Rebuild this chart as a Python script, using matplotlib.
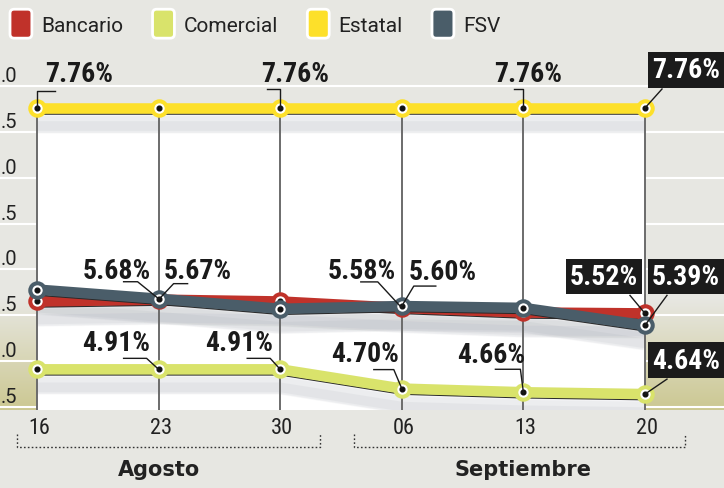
import numpy as np
import matplotlib
matplotlib.use('Agg')
import matplotlib.pyplot as plt
from matplotlib import font_manager as fm
from matplotlib.patches import Rectangle, FancyBboxPatch, Patch
from matplotlib.legend_handler import HandlerPatch
from matplotlib import transforms as mtrans

# ---------------- data ----------------
dates = ['16', '23', '30', '06', '13', '20']
months = ['Agosto', 'Septiembre']
month_groups = [[0, 1, 2], [3, 4, 5]]
series_names = ['Bancario', 'Comercial', 'Estatal', 'FSV']
bancario = [5.65, 5.67, 5.65, 5.58, 5.53, 5.52]
comercial = [4.91, 4.91, 4.91, 4.70, 4.66, 4.64]
estatal = [7.76, 7.76, 7.76, 7.76, 7.76, 7.76]
fsv = [5.78, 5.68, 5.57, 5.60, 5.58, 5.39]
y_ticks = [4.5, 5.0, 5.5, 6.0, 6.5, 7.0, 7.5, 8.0]
# the reference crops the y labels at the left edge; only the visible part is shown
y_tick_labels = ['.5', '.0', '.5', '.0', '.5', '.0', '.5', '.0']

# ---------------- fonts ----------------
all_fonts = fm.fontManager.ttflist
def has(name):
    return any(f.name == name for f in all_fonts)
cond_candidates = ['Roboto Condensed', 'Liberation Sans Narrow', 'Open Sans Condensed']
COND = next((c for c in cond_candidates if has(c)), 'DejaVu Sans')
REG = 'Roboto' if has('Roboto') else 'DejaVu Sans'

# ---------------- style ----------------
BG = '#e7e7e2'
colors = {'Bancario': '#c0322a', 'Comercial': '#d9e36b', 'Estatal': '#fde02a', 'FSV': '#4a5d69'}
W, H = 724, 489
PX_X0, PX_DX = 37, 121.6               # pixel x of first date, pixel spacing
PX_YREF, V_REF, PPU = 109, 7.76, 91.7  # calibration of the vertical scale

def vy(px_from_top):
    return V_REF - (px_from_top - PX_YREF) / PPU
def ddx(px):
    return px / PX_DX
def ddy(px_down):
    return -px_down / PPU

fig = plt.figure(figsize=(W / 100, H / 100), dpi=100)
fig.patch.set_facecolor(BG)
ax = fig.add_axes([0, 0, 1, 1])
xl = (-PX_X0 / PX_DX, (W - PX_X0) / PX_DX)
yl = (vy(H), vy(0))
ax.set_facecolor(BG)
ax.axis('off')

x = np.arange(len(dates))
ybot = vy(411)

# olive gradient in side margins
grad_top = np.array([0xe7, 0xe7, 0xe2]) / 255
grad_bot = np.array([0xcc, 0xc8, 0x92]) / 255
t = np.linspace(0, 1, 100)[:, None]
g = (grad_top * (1 - t) + grad_bot * t)[:, None, :]
ax.imshow(g, extent=[xl[0], 0, ybot, vy(300)], aspect='auto', origin='upper', zorder=0.5)
ax.imshow(g, extent=[x[-1], xl[1], ybot, vy(300)], aspect='auto', origin='upper', zorder=0.5)

# gridlines
for v in y_ticks:
    ax.axhline(v, color='white', lw=1.5, zorder=1)
for v, lab in zip(y_ticks, y_tick_labels):
    ax.text(ddx(17 - PX_X0), v + ddy(-1), lab, ha='right', va='bottom', fontsize=14.5,
            family=REG, color='#222222', zorder=2)

# white plot panel
panel = Rectangle((x[0], ybot), x[-1] - x[0], max(estatal) - ybot, fc='white', ec='none', zorder=2)
ax.add_patch(panel)

# vertical date lines
ax.vlines(x, ybot, max(estatal), color='#6b6b6b', lw=1.4, zorder=3)

series = [('Estatal', estatal), ('Comercial', comercial), ('Bancario', bancario), ('FSV', fsv)]
zbase = {'Estatal': 5.0, 'Comercial': 5.0, 'Bancario': 5.0, 'FSV': 5.4}

# soft shadows under the lines
for name, vals in series:
    for off, lw, a in [(10, 22, 0.04), (13, 17, 0.05), (16, 12, 0.07), (18, 7, 0.09)]:
        tr = mtrans.offset_copy(ax.transData, fig=fig, x=0, y=-off, units='dots')
        ln, = ax.plot(x, vals, color='#8d949b', lw=lw, alpha=a, transform=tr, zorder=2.5,
                      solid_capstyle='butt')
        ln.set_clip_path(panel)

for name, vals in series:
    z = zbase[name]
    tr = mtrans.offset_copy(ax.transData, fig=fig, x=0, y=-5.5, units='dots')
    ax.plot(x, vals, color='#2a2a2a', lw=1.1, transform=tr, zorder=z - 0.1)
    ax.plot(x, vals, color=colors[name], lw=7.6, zorder=z, solid_capstyle='butt',
            solid_joinstyle='round')
    ax.plot(x, vals, ls='none', marker='o', ms=10.4, mfc='white', mec=colors[name],
            mew=2.9, zorder=z + 0.1)
    ax.plot(x, vals, ls='none', marker='o', ms=3.4, color='#111111', zorder=z + 0.2)

# ---------------- data labels ----------------
sd = {'Bancario': bancario, 'Comercial': comercial, 'Estatal': estatal, 'FSV': fsv}
# (series, index, text, boxed, text offset px (dx, dy down), ha, leader path px offsets)
labels = [
    ('Estatal', 0, '7.76%', False, (8, -35), 'left', [(0, 0), (0, -17), (18, -17)]),
    ('Estatal', 2, '7.76%', False, (15, -35), 'center', [(0, 0), (0, -19), (-13, -19)]),
    ('Estatal', 4, '7.76%', False, (5, -35), 'center', [(0, 0), (0, -19), (-9, -19)]),
    ('Estatal', 5, '7.76%', True, (41, -38), 'center', [(0, 0), (17, -19)]),
    ('FSV', 1, '5.68%', False, (-8, -28), 'right', [(0, 0), (-21, -17), (-35, -17)]),
    ('Bancario', 1, '5.67%', False, (5, -29), 'left', [(0, 0), (15, -16), (29, -16)]),
    ('Bancario', 3, '5.58%', False, (-6, -37), 'right', [(0, 0), (-24, -26), (-41, -26)]),
    ('FSV', 3, '5.60%', False, (7, -35), 'left', [(0, 0), (12, -20), (34, -20)]),
    ('Bancario', 5, '5.52%', True, (-41, -37), 'center', [(0, 0), (-15, -18)]),
    ('FSV', 5, '5.39%', True, (41, -49), 'center', [(0, 0), (22, -30)]),
    ('Comercial', 1, '4.91%', False, (-8, -27), 'right', [(0, 0), (-12, -11), (-35, -11)]),
    ('Comercial', 2, '4.91%', False, (-7, -27), 'right', [(0, 0), (-10, -11), (-33, -11)]),
    ('Comercial', 3, '4.70%', False, (-3, -35), 'right', [(0, 0), (-8, -19), (-28, -19)]),
    ('Comercial', 4, '4.66%', False, (2, -38), 'right', [(0, 0), (-3, -23), (-28, -23)]),
    ('Comercial', 5, '4.64%', True, (41, -34), 'center', [(0, 0), (22, -15)]),
]
for name, i, txt, boxed, (tdx, tdy), ha, path in labels:
    v = sd[name][i]
    px = [i + ddx(p[0]) for p in path]
    py = [v + ddy(p[1]) for p in path]
    ax.plot(px, py, color='#1a1a1a', lw=1.0, zorder=7)
    kw = dict(ha=ha, va='center', fontsize=20, fontweight='black', family=COND, zorder=8)
    if boxed:
        ax.text(i + ddx(tdx), v + ddy(tdy), txt, color='white',
                bbox=dict(boxstyle='square,pad=0.15', fc='#1b1b1b', ec='none'), **kw)
    else:
        ax.text(i + ddx(tdx), v + ddy(tdy), txt, color='#1a1a1a', **kw)

# ---------------- x axis labels ----------------
for i, d in enumerate(dates):
    ax.text(i + ddx(2), vy(428), d, ha='center', va='center', fontsize=16, family=COND,
            color='#222222')
for m, grp in zip(months, month_groups):
    left = grp[0] + ddx(-20 if grp[0] == 0 else -48)
    right = grp[-1] + ddx(40)
    ax.plot([left, left, right, right], [vy(435), vy(448), vy(448), vy(435)], color='#333333',
            lw=1.0, ls=(0, (1.2, 1.6)), zorder=3)
    ax.text(np.mean(grp), vy(470), m, ha='center', va='center', fontsize=15, fontweight='bold',
            family='DejaVu Sans', color='#222222')

# ---------------- legend ----------------
class RoundHandler(HandlerPatch):
    def create_artists(self, legend, orig_handle, xdescent, ydescent, width, height, fontsize, trans):
        p = FancyBboxPatch((-xdescent, -ydescent - 2), width, height + 4,
                           boxstyle='round,pad=0,rounding_size=3',
                           fc=orig_handle.get_facecolor(), ec='white', lw=2.0, transform=trans)
        return [p]

handles = [Patch(fc=colors[n], label=n) for n in series_names]
leg = ax.legend(handles=handles, handler_map={Patch: RoundHandler()}, loc='upper left',
                bbox_to_anchor=(10 / W, 1 - 13 / H), ncol=4, frameon=False,
                prop={'family': REG, 'size': 15}, handlelength=1.05, handleheight=1.35,
                handletextpad=0.45, columnspacing=1.4, borderaxespad=0, borderpad=0)
for tx in leg.get_texts():
    tx.set_color('#222222')

ax.set_xlim(xl)
ax.set_ylim(yl)
fig.savefig('out.png', dpi=100, facecolor=BG)
